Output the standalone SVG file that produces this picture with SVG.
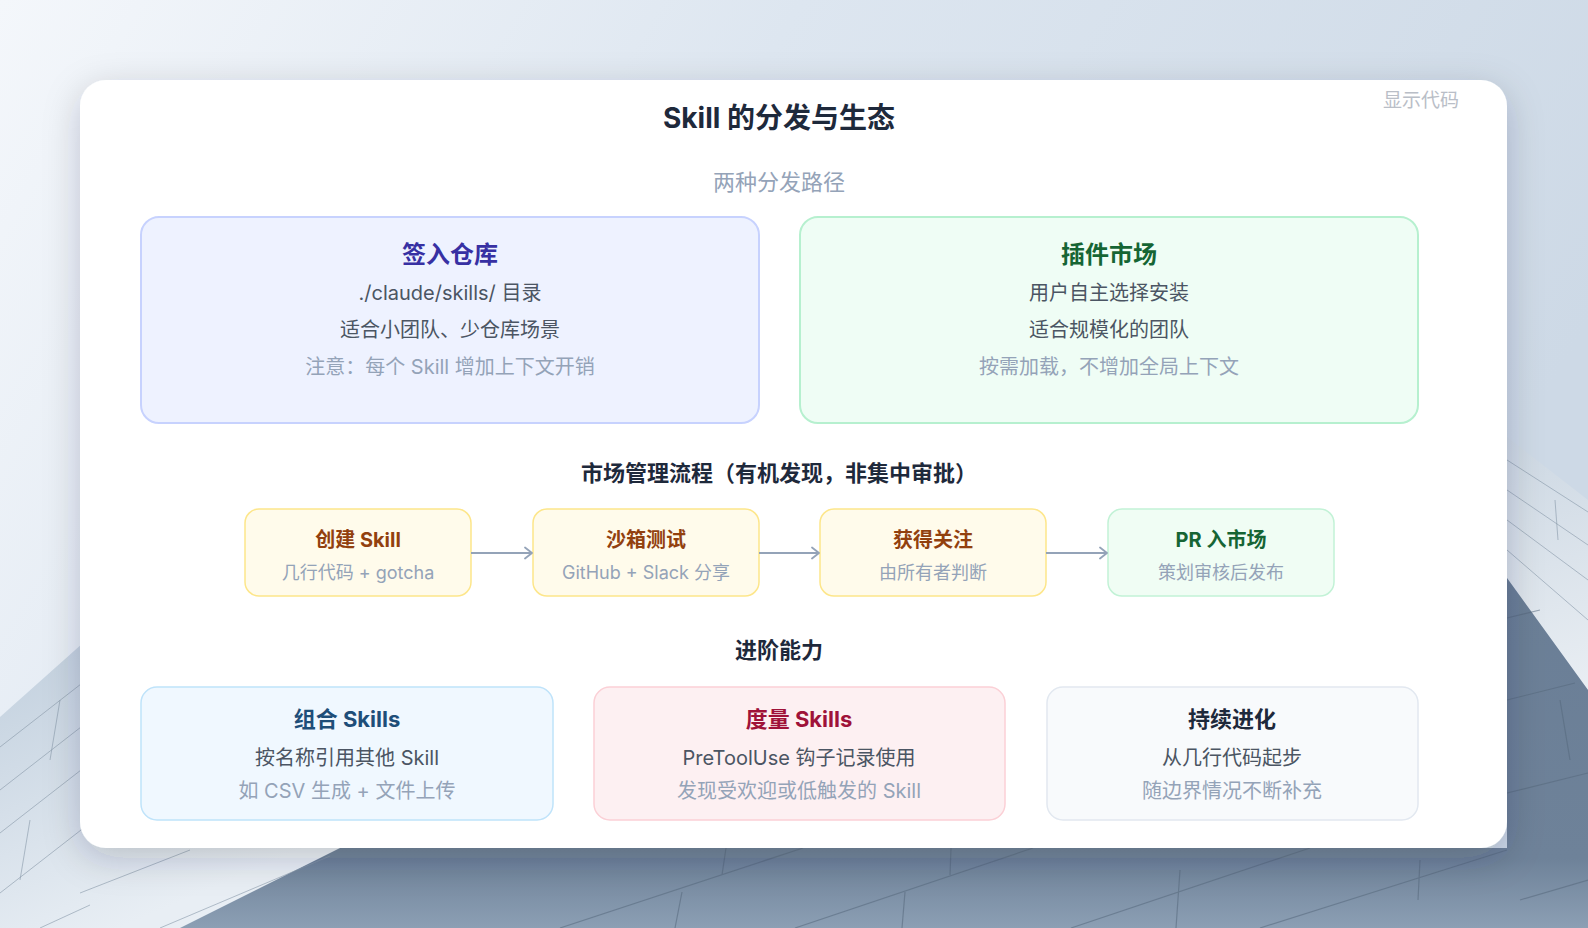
<svg xmlns="http://www.w3.org/2000/svg" width="1588" height="928" viewBox="0 0 1588 928">
  <defs>
    <linearGradient id="sky" x1="0" y1="0" x2="1" y2="0.35">
      <stop offset="0" stop-color="#f4f7fb"/>
      <stop offset="0.45" stop-color="#dde6f0"/>
      <stop offset="1" stop-color="#cdd9e6"/>
    </linearGradient>
    <linearGradient id="leftFacade" gradientUnits="userSpaceOnUse" x1="0" y1="650" x2="120" y2="928">
      <stop offset="0" stop-color="#c2d0de"/>
      <stop offset="1" stop-color="#e8eef4"/>
    </linearGradient>
    <linearGradient id="darkFacade" gradientUnits="userSpaceOnUse" x1="0" y1="580" x2="0" y2="928">
      <stop offset="0" stop-color="#6a7e96"/>
      <stop offset="0.8" stop-color="#6e8299"/>
      <stop offset="1" stop-color="#8c9fb4"/>
    </linearGradient>
    <linearGradient id="rightLight" gradientUnits="userSpaceOnUse" x1="1507" y1="440" x2="1588" y2="690">
      <stop offset="0" stop-color="#cdd8e3"/>
      <stop offset="1" stop-color="#e9eef3"/>
    </linearGradient>
    <filter id="cardShadow" x="-10%" y="-10%" width="120%" height="125%">
      <feDropShadow dx="0" dy="10" stdDeviation="18" flood-color="#1e293b" flood-opacity="0.2"/>
    </filter>
    <marker id="arrow" viewBox="0 0 10 14" refX="9" refY="7" markerWidth="10" markerHeight="14" markerUnits="userSpaceOnUse" orient="auto">
      <path d="M2,1.5 L9,7 L2,12.5" fill="none" stroke="#94a3b8" stroke-width="1.8" stroke-linecap="round" stroke-linejoin="round"/>
    </marker>
    <style>
      text { font-family: "Inter", "Noto Sans CJK SC", "Noto Sans", sans-serif; text-anchor: middle; }
      .title { font-size: 28px; font-weight: 700; fill: #1e293b; }
      .toggle { font-size: 19px; fill: #b9bec7; text-anchor: end; }
      .sub { font-size: 22px; fill: #94a3b8; }
      .section { font-size: 22px; font-weight: 700; fill: #1e293b; }
      .h24 { font-size: 24px; font-weight: 700; }
      .h22 { font-size: 22px; font-weight: 700; }
      .h20 { font-size: 20px; font-weight: 700; }
      .body { font-size: 20px; fill: #4b5563; }
      .muted { font-size: 20px; fill: #94a3b8; }
      .muted18 { font-size: 18px; fill: #94a3b8; }
      .indigo { fill: #eef2ff; stroke: #c7d2fe; stroke-width: 2; }
      .green { fill: #effdf5; stroke: #b6f0cf; stroke-width: 2; }
      .amber { fill: #fffbeb; stroke: #fde68a; stroke-width: 1.5; }
      .mint { fill: #f0fdf4; stroke: #c2f2d6; stroke-width: 1.5; }
      .skyb { fill: #f0f8ff; stroke: #bfe3fa; stroke-width: 1.5; }
      .rose { fill: #fdf0f2; stroke: #fbd0d6; stroke-width: 1.5; }
      .slate { fill: #f8fafc; stroke: #e2e8f0; stroke-width: 1.5; }
      .seam { stroke: #56687c; stroke-width: 1.2; fill: none; opacity: 0.55; }
      .seamL { stroke: #8797a8; stroke-width: 1; fill: none; opacity: 0.6; }
      .conn { stroke: #94a3b8; stroke-width: 2; fill: none; }
    </style>
  </defs>

  <!-- background scene -->
  <g id="background">
    <rect x="0" y="0" width="1588" height="928" fill="url(#sky)"/>
    <polygon points="0,717 120,610 600,560 600,928 0,928" fill="url(#leftFacade)"/>
    <polygon points="1507,437 1588,500 1588,690 1507,578" fill="url(#rightLight)"/>
    <polygon points="180,928 340,848 1507,848 1507,578 1588,690 1588,928" fill="url(#darkFacade)"/>
    <!-- left facade seams -->
    <path class="seamL" d="M0,747 L90,677 M0,790 L90,720 M0,833 L90,763 M0,893 L90,823 M60,700 L50,760 M30,820 L20,880 M80,893 L190,850 M160,928 L330,856 M40,928 L90,905"/>
    <!-- right light facade seams -->
    <path class="seamL" d="M1507,460 L1588,512 M1507,490 L1588,545 M1507,520 L1588,580 M1507,550 L1588,620 M1555,500 L1558,540"/>
    <!-- dark facade seams -->
    <path class="seam" d="M1507,618 L1540,610 M1507,700 L1575,683 M1507,793 L1588,773 M1520,900 L1588,880 M1560,700 L1570,760"/>
    <path class="seam" d="M560,928 L803,848 M795,928 L1033,848 M1071,928 L1310,848 M1260,928 L1507,850 M726,848 L722,875 M682,892 L675,928 M951,848 L950,875 M905,892 L902,928 M1180,870 L1176,928 M1420,860 L1418,900"/>
  </g>

  <!-- card -->
  <g id="card">
    <rect x="80" y="80" width="1427" height="768" rx="26" fill="#ffffff" filter="url(#cardShadow)"/>
    <text class="title" x="779" y="128">Skill 的分发与生态</text>
    <text class="toggle" x="1459" y="107">显示代码</text>
    <text class="sub" x="779" y="190">两种分发路径</text>
    <text class="section" x="779" y="481">市场管理流程（有机发现，非集中审批）</text>
    <text class="section" x="779" y="658">进阶能力</text>
  </g>

  <!-- distribution paths -->
  <g id="node-repo">
    <rect class="indigo" x="141" y="217" width="618" height="206" rx="18"/>
    <text class="h24" x="450" y="263" fill="#3730a3">签入仓库</text>
    <text class="body" x="450" y="300">./claude/skills/ 目录</text>
    <text class="body" x="450" y="337">适合小团队、少仓库场景</text>
    <text class="muted" x="450" y="374">注意：每个 Skill 增加上下文开销</text>
  </g>
  <g id="node-market">
    <rect class="green" x="800" y="217" width="618" height="206" rx="18"/>
    <text class="h24" x="1109" y="263" fill="#166534">插件市场</text>
    <text class="body" x="1109" y="300">用户自主选择安装</text>
    <text class="body" x="1109" y="337">适合规模化的团队</text>
    <text class="muted" x="1109" y="374">按需加载，不增加全局上下文</text>
  </g>

  <!-- flow -->
  <g id="node-create">
    <rect class="amber" x="245" y="509" width="226" height="87" rx="14"/>
    <text class="h20" x="358" y="547" fill="#92400e">创建 Skill</text>
    <text class="muted18" x="358" y="579">几行代码 + gotcha</text>
  </g>
  <g id="node-sandbox">
    <rect class="amber" x="533" y="509" width="226" height="87" rx="14"/>
    <text class="h20" x="646" y="547" fill="#92400e">沙箱测试</text>
    <text class="muted18" x="646" y="579">GitHub + Slack 分享</text>
  </g>
  <g id="node-attention">
    <rect class="amber" x="820" y="509" width="226" height="87" rx="14"/>
    <text class="h20" x="933" y="547" fill="#92400e">获得关注</text>
    <text class="muted18" x="933" y="579">由所有者判断</text>
  </g>
  <g id="node-pr">
    <rect class="mint" x="1108" y="509" width="226" height="87" rx="14"/>
    <text class="h20" x="1221" y="547" fill="#166534">PR 入市场</text>
    <text class="muted18" x="1221" y="579">策划审核后发布</text>
  </g>

  <g id="connectors">
    <line class="conn" x1="471" y1="553" x2="532" y2="553" marker-end="url(#arrow)"/>
    <line class="conn" x1="759" y1="553" x2="819" y2="553" marker-end="url(#arrow)"/>
    <line class="conn" x1="1046" y1="553" x2="1107" y2="553" marker-end="url(#arrow)"/>
  </g>

  <!-- advanced -->
  <g id="node-compose">
    <rect class="skyb" x="141" y="687" width="412" height="133" rx="16"/>
    <text class="h22" x="347" y="727" fill="#1e4e79">组合 Skills</text>
    <text class="body" x="347" y="765">按名称引用其他 Skill</text>
    <text class="muted" x="347" y="798">如 CSV 生成 + 文件上传</text>
  </g>
  <g id="node-measure">
    <rect class="rose" x="594" y="687" width="411" height="133" rx="16"/>
    <text class="h22" x="799" y="727" fill="#9f1239">度量 Skills</text>
    <text class="body" x="799" y="765">PreToolUse 钩子记录使用</text>
    <text class="muted" x="799" y="798">发现受欢迎或低触发的 Skill</text>
  </g>
  <g id="node-evolve">
    <rect class="slate" x="1047" y="687" width="371" height="133" rx="16"/>
    <text class="h22" x="1232" y="727" fill="#1e293b">持续进化</text>
    <text class="body" x="1232" y="765">从几行代码起步</text>
    <text class="muted" x="1232" y="798">随边界情况不断补充</text>
  </g>
</svg>
